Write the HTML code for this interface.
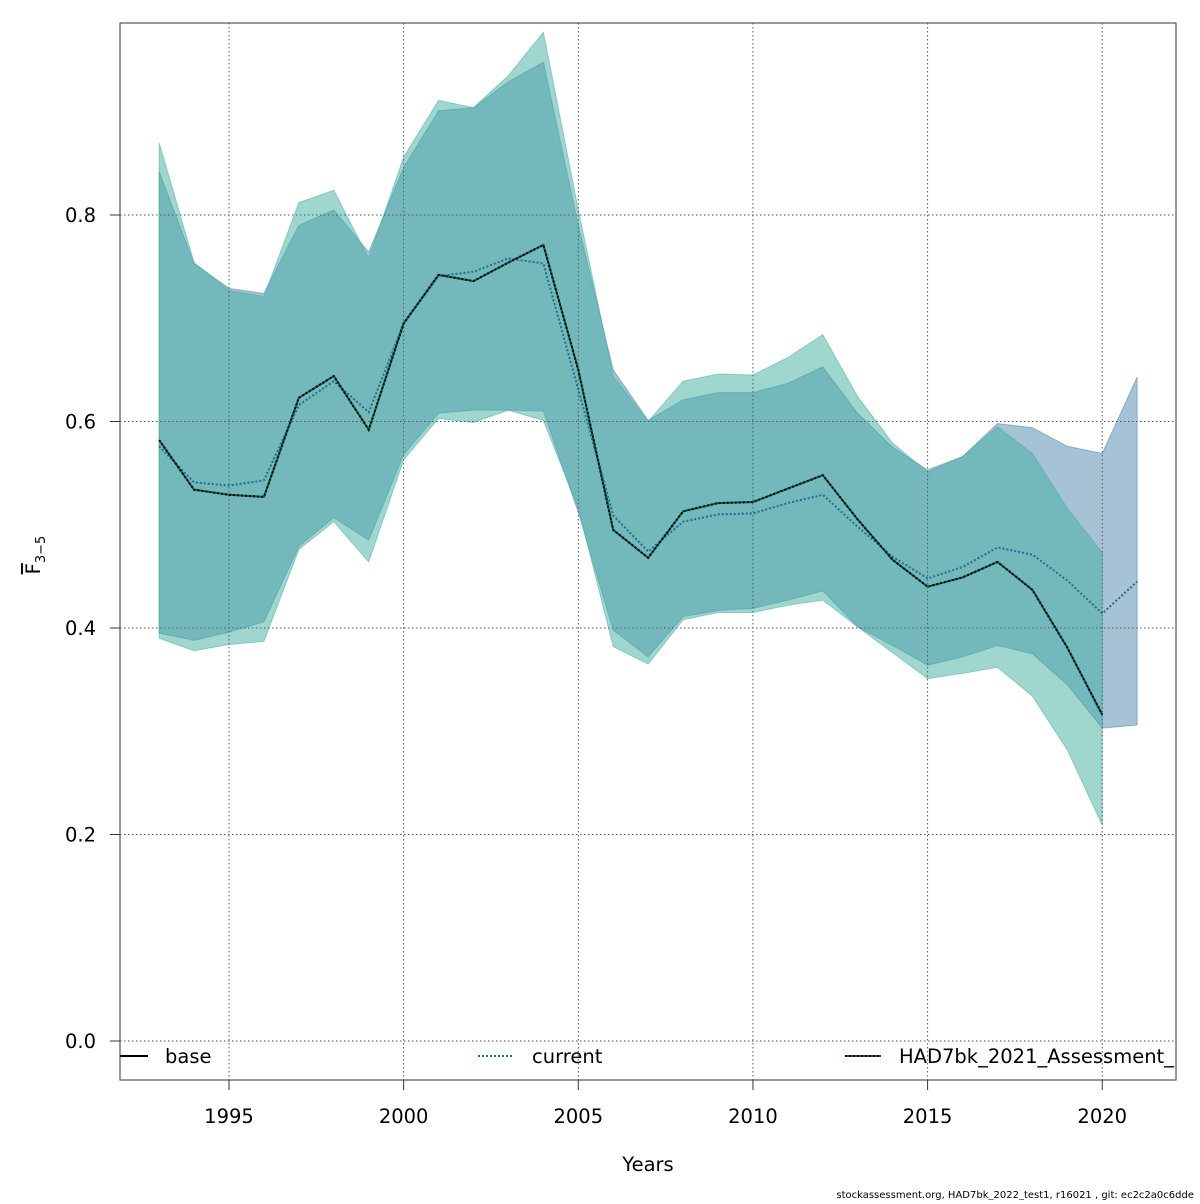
<!DOCTYPE html>
<html><head><meta charset="utf-8"><style>
body{margin:0;background:#fff;font-family:"DejaVu Sans","Liberation Sans",sans-serif}
</style></head><body>
<svg id="chart" width="1200" height="1200" xmlns="http://www.w3.org/2000/svg" font-family="DejaVu Sans, Liberation Sans, sans-serif">
<defs><clipPath id="pc"><rect x="120" y="23" width="1056" height="1057"/></clipPath></defs>
<g id="bands" clip-path="url(#pc)"></g>
<g id="grid"></g>
<g id="lines" clip-path="url(#pc)"></g>
<rect x="120" y="23" width="1056" height="1057" fill="none" stroke="#555" stroke-width="1.2"/>
<g id="axes"></g>
<g clip-path="url(#pc)">
<line x1="120" y1="1056" x2="148" y2="1056" stroke="#000" stroke-width="2"/>
<text x="165" y="1063" font-size="19.5">base</text>
<line x1="478" y1="1056" x2="514" y2="1056" stroke="#1f6f8f" stroke-width="2" stroke-dasharray="2,2"/>
<text x="532" y="1063" font-size="19.5">current</text>
<line x1="845" y1="1056" x2="881" y2="1056" stroke="#0d5e50" stroke-width="2"/>
<line x1="845" y1="1056" x2="881" y2="1056" stroke="#000" stroke-width="2" stroke-dasharray="2,2"/>
<text x="899" y="1063" font-size="19.5">HAD7bk_2021_Assessment_</text>
</g>
<text x="648" y="1171" font-size="19.5" text-anchor="middle">Years</text>
<text transform="translate(40,555) rotate(-90)" font-size="19.5" text-anchor="middle"><tspan text-decoration="overline">F</tspan><tspan font-size="13" dy="5">3−5</tspan></text>
<text x="1194" y="1198" font-size="10" text-anchor="end">stockassessment.org, HAD7bk_2022_test1, r16021 , git: ec2c2a0c6dde</text>
</svg>
<script>
const years=[1993,1994,1995,1996,1997,1998,1999,2000,2001,2002,2003,2004,2005,2006,2007,2008,2009,2010,2011,2012,2013,2014,2015,2016,2017,2018,2019,2020,2021];
const baseF=[0.582,0.534,0.529,0.527,0.623,0.644,0.592,0.695,0.742,0.736,0.754,0.771,0.650,0.495,0.468,0.513,0.521,0.522,0.535,0.548,0.505,0.466,0.440,0.449,0.464,0.437,0.381,0.316];
const baseHi=[0.870,0.754,0.727,0.721,0.812,0.824,0.758,0.856,0.911,0.904,0.935,0.977,0.805,0.644,0.600,0.639,0.646,0.645,0.662,0.684,0.624,0.579,0.551,0.566,0.595,0.569,0.516,0.473];
const baseLo=[0.390,0.378,0.384,0.387,0.476,0.503,0.464,0.563,0.603,0.599,0.611,0.601,0.516,0.382,0.365,0.408,0.415,0.415,0.422,0.427,0.401,0.376,0.351,0.356,0.362,0.334,0.282,0.209];
const curF=[0.576,0.541,0.538,0.543,0.616,0.639,0.609,0.695,0.741,0.745,0.758,0.753,0.631,0.509,0.474,0.503,0.510,0.511,0.521,0.529,0.498,0.469,0.448,0.459,0.478,0.471,0.446,0.414,0.445];
const curHi=[0.842,0.753,0.729,0.724,0.790,0.805,0.764,0.846,0.901,0.904,0.929,0.948,0.790,0.650,0.601,0.621,0.628,0.628,0.637,0.653,0.608,0.575,0.553,0.566,0.598,0.594,0.576,0.569,0.643];
const curLo=[0.395,0.388,0.396,0.406,0.479,0.507,0.485,0.568,0.608,0.611,0.611,0.610,0.512,0.398,0.372,0.411,0.417,0.419,0.427,0.436,0.401,0.383,0.364,0.372,0.383,0.375,0.345,0.303,0.306];
const xTicks=[1995,2000,2005,2010,2015,2020];
const yTicks=[0.0,0.2,0.4,0.6,0.8];
const yTickLabels=["0.0","0.2","0.4","0.6","0.8"];
const NS="http://www.w3.org/2000/svg";
const X=y=>229+(y-1995)*34.93;
const Y=v=>1041-v*1032.5;
function mk(t,a,p){const e=document.createElementNS(NS,t);for(const k in a)e.setAttribute(k,a[k]);document.getElementById(p).appendChild(e);return e;}
function band(hi,lo){const n=hi.length;let pts=[];for(let i=0;i<n;i++)pts.push(X(years[i])+','+Y(hi[i]));for(let i=n-1;i>=0;i--)pts.push(X(years[i])+','+Y(lo[i]));return pts.join(' ');}
function line(v){return v.map((d,i)=>X(years[i])+','+Y(d)).join(' ');}
let b1=mk('polygon',{points:band(curHi,curLo),fill:'rgb(70,130,170)','fill-opacity':0.48,stroke:'rgb(70,130,170)','stroke-opacity':0.5},'bands');


let b2=mk('polygon',{points:band(baseHi,baseLo),fill:'rgb(64,176,160)','fill-opacity':0.5,stroke:'rgb(64,176,160)','stroke-opacity':0.5},'bands');


xTicks.forEach(t=>{let g=mk('line',{x1:X(t),x2:X(t),y1:23,y2:1080,stroke:'#555','stroke-dasharray':'1.5,2.5','stroke-width':1},'grid');


let tk=mk('line',{x1:X(t),x2:X(t),y1:1080,y2:1090,stroke:'#333'},'axes');


let tx=mk('text',{x:X(t),y:1123,'font-size':19.5,'text-anchor':'middle'},'axes');tx.textContent=t;

});
yTicks.forEach((t,i)=>{let g=mk('line',{x1:120,x2:1176,y1:Y(t),y2:Y(t),stroke:'#555','stroke-dasharray':'1.5,2.5','stroke-width':1},'grid');


let tk=mk('line',{x1:110,x2:120,y1:Y(t),y2:Y(t),stroke:'#333'},'axes');


let tx=mk('text',{x:96,y:Y(t)+7,'font-size':19.5,'text-anchor':'end'},'axes');tx.textContent=yTickLabels[i];

});
let l2=mk('polyline',{points:line(curF),fill:'none',stroke:'#1f6f8f','stroke-width':2,'stroke-dasharray':'2,2'},'lines');


let l1=mk('polyline',{points:line(baseF),fill:'none',stroke:'#0d5e50','stroke-width':2},'lines');


let l3=mk('polyline',{points:line(baseF),fill:'none',stroke:'#000','stroke-width':2,'stroke-dasharray':'2,2'},'lines');


</script>
</body></html>
